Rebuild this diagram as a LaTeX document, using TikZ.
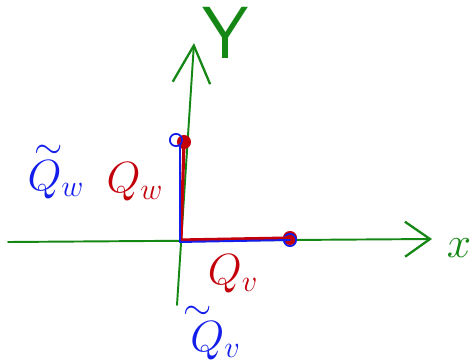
\documentclass[tikz,border=0pt]{standalone}
\usetikzlibrary{arrows.meta}
\definecolor{axgreen}{RGB}{20,135,20}
\definecolor{vred}{RGB}{195,0,10}
\definecolor{vblue}{RGB}{20,30,235}
\newcommand{\tild}{{\fontsize{20}{20}\selectfont$\sim$}}
\begin{document}
\begin{tikzpicture}[x=0.02cm,y=-0.02cm,font=\fontsize{24}{28}\selectfont,
  axis/.style={axgreen,line width=1.1pt,line cap=round},
  redvec/.style={vred,line width=1.8pt,line join=round,line cap=round},
  bluevec/.style={vblue,line width=1.1pt,line join=round,line cap=round},
  reddot/.style={circle,fill=vred,inner sep=0pt,minimum size=8pt},
  bluedot/.style={circle,draw=vblue,line width=1pt,inner sep=0pt,minimum size=7pt},
  tlabel/.style={align=left,inner sep=0pt}]
\useasboundingbox (0,0) rectangle (473,361);
% axes
\coordinate (xl) at (8,242);
\coordinate (xr) at (432,239);
\coordinate (yb) at (177,305);
\coordinate (yt) at (194,43);
\draw[axis,-{Straight Barb[length=0.5cm,width=0.7cm,line width=1.3pt]}] (xl) -- (xr);
\draw[axis,-{Straight Barb[length=0.75cm,width=0.75cm,line width=1.3pt]}] (yb) -- (yt);
\node[axgreen,font=\fontsize{34}{36}\selectfont] (xlab) at (459,248) {$x$};
\node[axgreen,font=\fontsize{42}{44}\selectfont\sffamily] (ylab) at (226,33) {Y};
% vectors
\coordinate (O) at (181,240);
\node[reddot] (rw) at (184,142) {};
\node[reddot] (rv) at (290,238) {};
\node[bluedot] (bw) at (176,140) {};
\node[bluedot] (bv) at (290,240) {};
\coordinate (bt) at (180,146);
\draw[redvec] (rw.center) -- (O) -- (rv.center);
\draw[bluevec] (bw) -- (bt) -- ([shift={(-1,2)}]O) -- (bv.center);
% labels
\node[vblue,tlabel] (qtw) at (56,172) {\,\tild\\[-10pt]$Q_w$};
\node[vred] (qw) at (135,182) {$Q_w$};
\node[vred] (qv) at (233,274) {$Q_v$};
\node[vblue,tlabel] (qtv) at (212,333) {\tild\\[-10pt]\,$Q_v$};
\end{tikzpicture}
\end{document}
